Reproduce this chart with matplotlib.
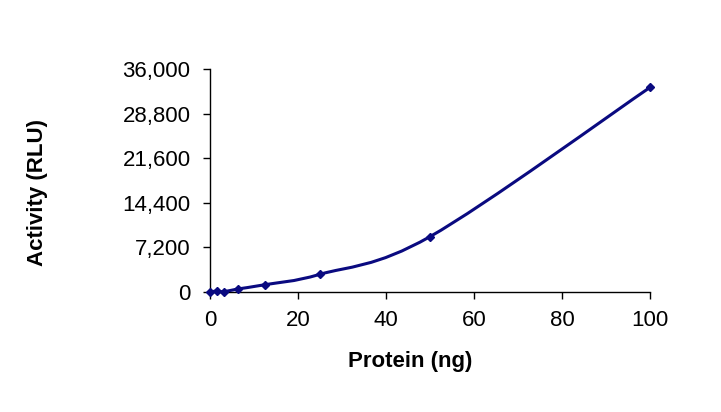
import numpy as np
import matplotlib.pyplot as plt
from matplotlib.path import Path
from matplotlib.patches import PathPatch

plt.rcParams['font.family'] = ['Liberation Sans', 'DejaVu Sans']

# Serial dilution of protein (ng) and measured activity (RLU)
protein_ng = [0, 1.5625, 3.125, 6.25, 12.5, 25, 50, 100]
activity_rlu = [0, 150, 50, 480, 1180, 2860, 8940, 33030]

y_ticks = [0, 7200, 14400, 21600, 28800, 36000]
x_ticks = [0, 20, 40, 60, 80, 100]

line_color = '#0a0a80'

fig = plt.figure(figsize=(7.21, 4.12), dpi=100)
ax = fig.add_axes([210 / 721, 1 - 292 / 412, 440 / 721, 223 / 412])

# Excel-style smoothed line: cubic Bezier segments through the points
pts = np.column_stack([protein_ng, activity_rlu]).astype(float)
verts = [pts[0]]
codes = [Path.MOVETO]
n = len(pts)
for i in range(n - 1):
    p0 = pts[i - 1] if i > 0 else pts[i]
    p1 = pts[i]
    p2 = pts[i + 1]
    p3 = pts[i + 2] if i + 2 < n else pts[i + 1]
    c1 = p1 + (p2 - p0) / 6.0
    c2 = p2 - (p3 - p1) / 6.0
    verts += [c1, c2, p2]
    codes += [Path.CURVE4] * 3
ax.add_patch(PathPatch(Path(verts, codes), facecolor='none',
                       edgecolor=line_color, lw=2.2, zorder=3))
ax.plot(protein_ng, activity_rlu, linestyle='none', marker='D', ms=4.5,
        color=line_color, zorder=4, clip_on=False)

ax.set_xlim(0, 100)
ax.set_ylim(0, 36000)
ax.set_xticks(x_ticks)
ax.set_yticks(y_ticks)
ax.set_yticklabels([f'{v:,}' for v in y_ticks])
ax.spines['top'].set_visible(False)
ax.spines['right'].set_visible(False)
for s in ('left', 'bottom'):
    ax.spines[s].set_linewidth(1.0)
ax.tick_params(direction='out', length=5, width=1.0, labelsize=16)
ax.tick_params(axis='y', pad=9)
ax.tick_params(axis='x', pad=8)

fig.text(410 / 721, 1 - 362 / 412, 'Protein (ng)', ha='center', va='center',
         fontsize=16, fontweight='bold')
fig.text(38 / 721, 1 - 193 / 412, 'Activity (RLU)', ha='center', va='center',
         fontsize=16, fontweight='bold', rotation=90)

fig.savefig('out.png', dpi=100)
